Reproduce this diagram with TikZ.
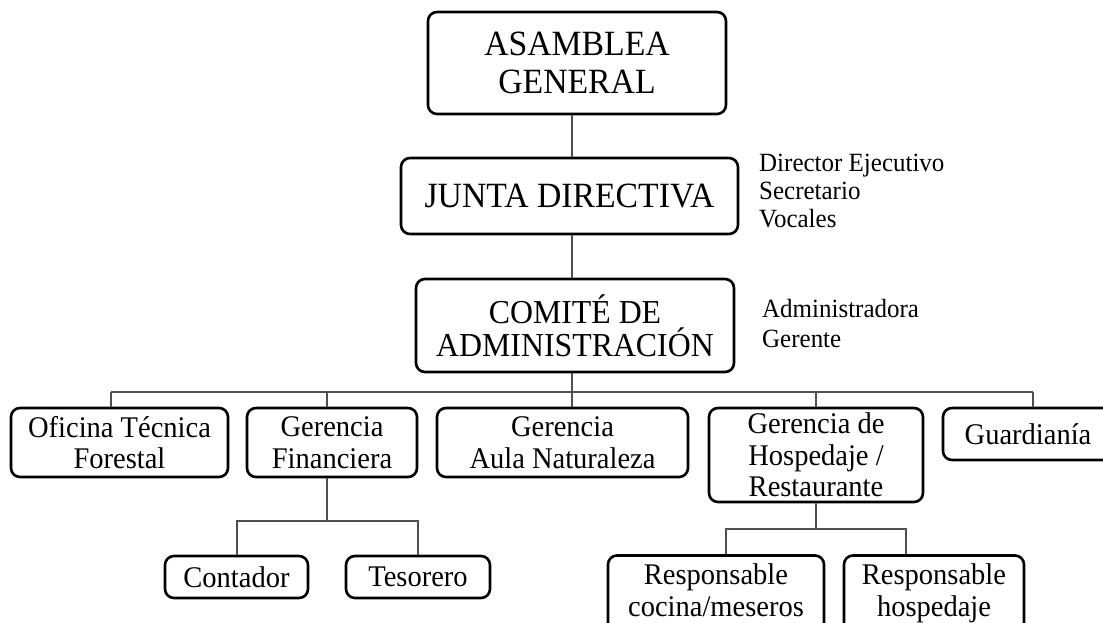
\documentclass[tikz,border=0pt]{standalone}
\usepackage{fontspec}
\setmainfont{Liberation Serif}[FakeStretch=0.95]
\definecolor{linegray}{HTML}{505050}
\begin{document}
\begin{tikzpicture}[x=1pt,y=-1pt,
  box/.style={draw=black, line width=2.6pt, rounded corners=9pt, inner sep=0pt, align=center, text=black},
  conn/.style={draw=linegray, line width=1.3pt},
  bigfont/.style={font=\fontsize{35.5}{38}\selectfont},
  midfont/.style={font=\fontsize{33.5}{33}\selectfont},
  smallfont/.style={font=\fontsize{30}{31.5}\selectfont},
  sidefont/.style={font=\fontsize{26.3}{28}\selectfont}
]
\useasboundingbox (0,0) rectangle (1103,623);
\clip (0,0) rectangle (1103,623);
\fill[white] (0,0) rectangle (1103,623);

% top boxes
\node[box, bigfont, minimum width=298pt, minimum height=102pt] (asam) at (577,63) {ASAMBLEA\\GENERAL};
\node[box, bigfont, minimum width=337pt, minimum height=76pt] (junta) at (569.5,196) {JUNTA DIRECTIVA};
\node[box, midfont, minimum width=318pt, minimum height=93pt] (comite) at (575,325.5) {COMITÉ DE\\ADMINISTRACIÓN};

% side texts
\node[sidefont, anchor=north west, inner sep=0pt, align=left] (dirtxt) at (759,154) {Director Ejecutivo\\Secretario\\Vocales};
\node[font=\fontsize{26.3}{30}\selectfont, anchor=north west, inner sep=0pt, align=left] (admtxt) at (762,299) {Administradora\\Gerente};

% second level
\node[box, smallfont, minimum width=217pt, minimum height=69pt] (ofi) at (119.5,442.5) {Oficina Técnica\\Forestal};
\node[box, smallfont, minimum width=170pt, minimum height=69pt] (fin) at (332,442.5) {Gerencia\\Financiera};
\node[box, smallfont, minimum width=251pt, minimum height=69pt] (aula) at (562.5,442.5) {Gerencia\\Aula Naturaleza};
\node[box, smallfont, minimum width=214pt, minimum height=94pt] (hosp) at (816,455) {Gerencia de\\Hospedaje /\\Restaurante};
\node[box, smallfont, minimum width=170pt, minimum height=52pt] (guard) at (1028,434) {Guardianía};

% third level
\node[box, smallfont, minimum width=143pt, minimum height=42pt] (cont) at (236.5,577) {Contador};
\node[box, smallfont, minimum width=144pt, minimum height=42pt] (teso) at (418,577) {Tesorero};
\node[box, smallfont, minimum width=216pt, minimum height=76pt] (resp1) at (716,593.5) {Responsable\\cocina/meseros\vphantom{pj}};
\node[box, smallfont, minimum width=180pt, minimum height=76pt] (resp2) at (934,593.5) {Responsable\\hospedaje};

% connector coordinates
\coordinate (sx) at (572,0);
\coordinate (dOfi) at (111,392);
\coordinate (dFin) at (327,392);
\coordinate (dHosp) at (816,392);
\coordinate (dGuard) at (1033,392);
\coordinate (fsub) at (327,521);
\coordinate (cL) at (237,521);
\coordinate (cR) at (418,521);
\coordinate (hsub) at (816,529);
\coordinate (hL) at (726,529);
\coordinate (hR) at (906,529);

% spine
\draw[conn] (asam.south -| sx) -- (junta.north -| sx);
\draw[conn] (junta.south -| sx) -- (comite.north -| sx);
\draw[conn] (comite.south -| sx) -- (aula.north -| sx);
% bus
\draw[conn] (dOfi) -- (dGuard);
\draw[conn] (dOfi) -- (ofi.north -| dOfi);
\draw[conn] (dFin) -- (fin.north -| dFin);
\draw[conn] (dHosp) -- (hosp.north -| dHosp);
\draw[conn] (dGuard) -- (guard.north -| dGuard);
% financiera children
\draw[conn] (fin.south -| fsub) -- (fsub);
\draw[conn] (cont.north -| cL) -- (cL) -- (cR) -- (teso.north -| cR);
% hospedaje children
\draw[conn] (hosp.south -| hsub) -- (hsub);
\draw[conn] (resp1.north -| hL) -- (hL) -- (hR) -- (resp2.north -| hR);
\end{tikzpicture}
\end{document}
